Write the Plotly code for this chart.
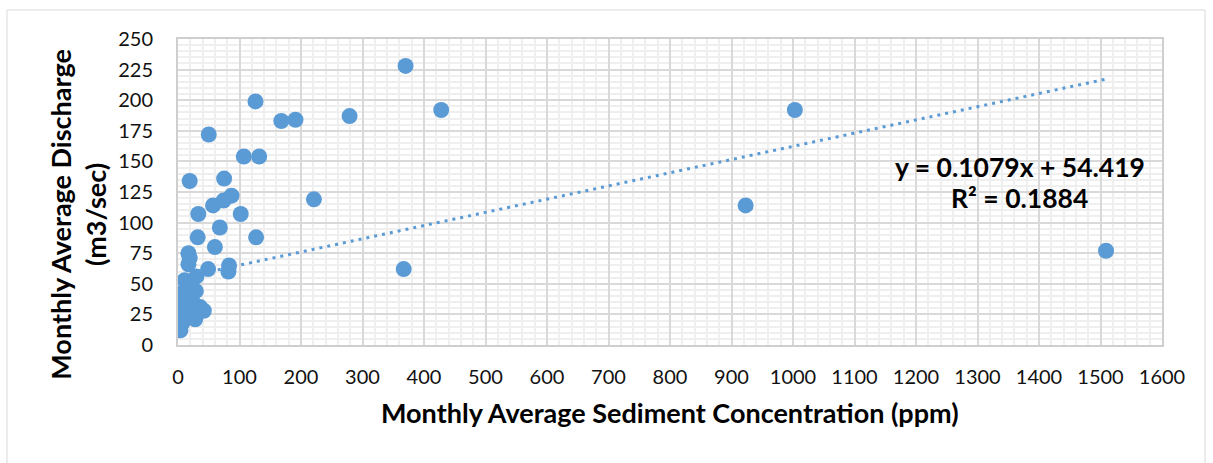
import plotly.graph_objects as go

# Monthly average sediment concentration (ppm) and discharge (m3/sec)
sediment_ppm = [370, 126, 428, 1003, 279, 168, 191, 50, 107, 132, 19, 75, 87, 74,
                57, 33, 102, 68, 32, 127, 221, 923, 1509, 367, 60, 17, 19, 17, 49,
                83, 82, 11, 30, 29, 3, 6, 42, 28, 3, 4, 11, 22, 3, 8, 14, 5, 24, 2,
                9, 15, 20, 36, 1, 6]
discharge_m3s = [228, 199, 192, 192, 187, 183, 184, 172, 154, 154, 134, 136, 122, 118,
                 114, 107, 107, 96, 88, 88, 119, 114, 77, 62, 80, 75, 71, 66, 62,
                 65, 60, 53, 56, 44, 42, 34, 28, 21, 18, 12, 26, 30, 15, 38, 47, 24, 35, 28,
                 20, 32, 49, 31, 22, 17]

# Linear trend reported on the chart
slope = 0.1079
intercept = 54.419
r_squared = 0.1884

x_ticks = list(range(0, 1601, 100))
y_ticks = list(range(0, 251, 25))

blue = "#5B9BD5"
font_family = "Lato, 'Open Sans', sans-serif"

trend_x = [min(sediment_ppm), max(sediment_ppm)]
trend_y = [slope * v + intercept for v in trend_x]

fig = go.Figure()
fig.add_trace(go.Scatter(
    x=trend_x, y=trend_y, mode="lines",
    line=dict(color=blue, width=3, dash="3px,5px"),
    hoverinfo="skip", showlegend=False,
))
fig.add_trace(go.Scatter(
    x=sediment_ppm, y=discharge_m3s, mode="markers",
    marker=dict(color=blue, size=16, line=dict(width=0)),
    showlegend=False,
))

grid_major = "#d9d9d9"
grid_minor = "#efefef"

fig.update_layout(
    width=1213, height=463,
    margin=dict(l=178, r=51, t=39, b=118),
    paper_bgcolor="white", plot_bgcolor="white",
    font=dict(family=font_family, color="#111111", size=20),
    xaxis=dict(
        range=[0, 1600], tickvals=x_ticks, ticktext=[str(v) for v in x_ticks],
        showgrid=True, gridcolor=grid_major, gridwidth=2,
        minor=dict(dtick=20, showgrid=True, gridcolor=grid_minor, gridwidth=2),
        showline=True, linecolor="#cfcfcf", linewidth=2, mirror=True,
        zeroline=False, ticks="", ticklabelstandoff=13,
        tickfont=dict(size=20, family=font_family, color="#111111"),
    ),
    yaxis=dict(
        range=[0, 250], tickvals=y_ticks, ticktext=[str(v) for v in y_ticks],
        showgrid=True, gridcolor=grid_major, gridwidth=2,
        minor=dict(dtick=5, showgrid=True, gridcolor=grid_minor, gridwidth=2),
        showline=True, linecolor="#cfcfcf", linewidth=2, mirror=True,
        zeroline=False, ticks="", ticklabelstandoff=19,
        tickfont=dict(size=20, family=font_family, color="#111111"),
    ),
    shapes=[dict(
        type="rect", xref="paper", yref="paper",
        x0=-0.1738, x1=1.0437, y0=-0.45, y1=1.0948,
        line=dict(color="#d9d9d9", width=1), fillcolor="rgba(0,0,0,0)", layer="below",
    )],
    annotations=[
        dict(text="<b>Monthly Average Sediment Concentration (ppm)</b>",
             xref="paper", yref="paper", x=0.5, y=-0.2202,
             xanchor="center", yanchor="middle", showarrow=False,
             font=dict(size=27, family=font_family, color="#000000")),
        dict(text="<b>Monthly Average Discharge<br>(m3/sec)</b>",
             xref="paper", yref="paper", x=-0.1016, y=0.4258, textangle=-90,
             xanchor="center", yanchor="middle", showarrow=False,
             font=dict(size=27, family=font_family, color="#000000")),
        dict(text=f"<b>y = {slope}x + {intercept}</b>",
             xref="x", yref="y", x=1369, y=145.6,
             xanchor="center", yanchor="middle", showarrow=False,
             font=dict(size=26.5, family=font_family, color="#000000")),
        dict(text=f"<b>R² = {r_squared}</b>",
             xref="x", yref="y", x=1369, y=120.3,
             xanchor="center", yanchor="middle", showarrow=False,
             font=dict(size=26.5, family=font_family, color="#000000")),
    ],
)

fig.write_html("out.html")
